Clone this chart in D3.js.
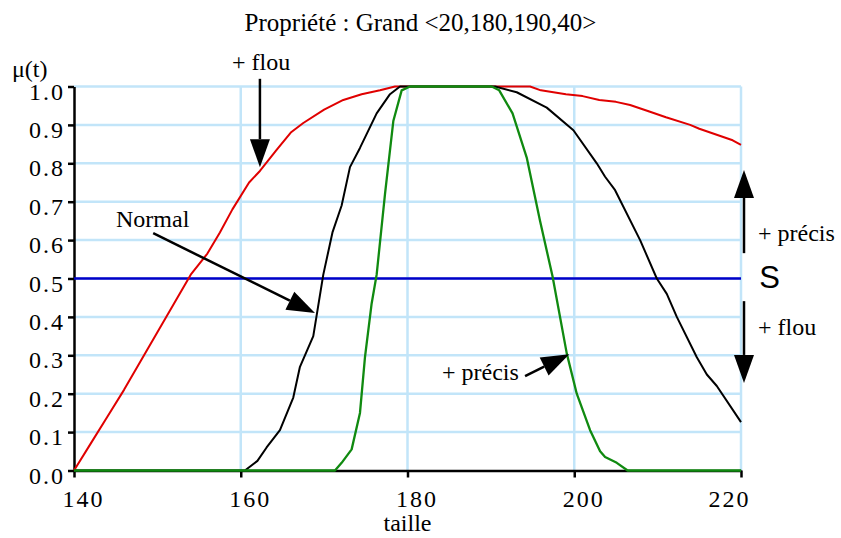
<!DOCTYPE html>
<html>
<head>
<meta charset="utf-8">
<script src="https://cdn.jsdelivr.net/npm/d3@7"></script>
<style>
  body { margin: 0; background: #fff; }
  svg { display: block; }
  text { font-family: "Liberation Serif", "Times New Roman", serif; fill: #000; }
</style>
</head>
<body>
<svg id="chart" width="841" height="538"></svg>
<script>
// ---------- data ----------
const title = "Propriété : Grand <20,180,190,40>";
const xTicks = [140, 160, 180, 200, 220];
const yTicks = [0, 0.1, 0.2, 0.3, 0.4, 0.5, 0.6, 0.7, 0.8, 0.9, 1.0];
const xLabel = "taille";
const yLabel = "μ(t)";

// "+ flou" (red)
const flouT = [140,142,144,146,148,150,152,154,156,157.5,159,161,162.3,164.3,166,167.5,170,172.3,174.5,176.7,178.5,180,190,194.7,196,199,201,203,205,206.7,209,211,213.9,215,217,219,220];
const flouV = [0,0.07,0.14,0.21,0.285,0.36,0.435,0.51,0.565,0.62,0.68,0.75,0.78,0.835,0.88,0.905,0.94,0.965,0.98,0.99,1,1,1,1,0.99,0.98,0.975,0.965,0.96,0.952,0.935,0.92,0.9,0.89,0.875,0.86,0.848];

// "Normal" (black)
const normalT = [140,160.5,162,163.1,164.7,166.3,167.1,168.7,169.9,171,172.1,173.1,174.3,176.3,177.9,179.1,190.5,193.1,196.7,199.9,202.7,203.7,204.9,207.9,209.9,211.1,212.3,214.7,215.9,217.1,220];
const normalV = [0,0,0.025,0.06,0.105,0.19,0.27,0.35,0.51,0.62,0.69,0.79,0.84,0.93,0.98,1,1,0.985,0.945,0.886,0.80,0.765,0.73,0.6,0.5,0.46,0.4,0.295,0.25,0.22,0.126];

// "+ précis" (green)
const precisT = [140,171.3,172.1,173.3,174.3,174.9,175.7,176.3,177.3,178.3,179.3,180.3,190.1,191,192.6,194.3,195.9,197.4,199.1,200.3,201.9,203.1,203.7,205.1,206.4,220];
const precisV = [0,0,0.02,0.055,0.15,0.295,0.435,0.51,0.72,0.91,0.99,1,1,0.99,0.93,0.815,0.65,0.505,0.305,0.2,0.105,0.05,0.035,0.02,0,0];

// threshold S (blue)
const seuilT = [140, 220];
const seuilV = [0.5, 0.5];

// annotation texts
const annoTexts = ["+ flou", "Normal", "+ précis", "+ précis", "S", "+ flou"];

// ---------- layout ----------
const svg = d3.select("#chart");
const x = d3.scaleLinear().domain([140, 220]).range([74, 741]);
const y = d3.scaleLinear().domain([0, 1]).range([470.5, 86.5]);

const gridColor = "#c2e5f9";

// title
svg.append("text").attr("x", 420.5).attr("y", 31)
  .attr("text-anchor", "middle").style("font-size", "25px")
  .text(title);

// grid
const grid = svg.append("g");
grid.selectAll("line.h").data(yTicks.filter(d => d > 0)).join("line")
  .attr("x1", x(140)).attr("x2", x(220))
  .attr("y1", d => y(d)).attr("y2", d => y(d))
  .attr("stroke", gridColor).attr("stroke-width", 2.5);
grid.selectAll("line.v").data(xTicks.filter(d => d > 140)).join("line")
  .attr("x1", d => x(d)).attr("x2", d => x(d))
  .attr("y1", y(0)).attr("y2", y(1))
  .attr("stroke", gridColor).attr("stroke-width", 2.5);

// axes
const yAxis = svg.append("g").attr("transform", `translate(${x(140)},0)`)
  .call(d3.axisLeft(y).tickValues(yTicks).tickSize(6).tickSizeOuter(0).tickFormat(d3.format(".1f")));
const xAxis = svg.append("g").attr("transform", `translate(0,${y(0)})`)
  .call(d3.axisBottom(x).tickValues(xTicks).tickSize(7).tickSizeOuter(0).tickFormat(d3.format("d")));

[yAxis, xAxis].forEach(g => {
  g.select(".domain").attr("stroke", "#000").attr("stroke-width", 2.5);
  g.selectAll(".tick line").attr("stroke", "#000").attr("stroke-width", 2.5);
  g.selectAll(".tick text").style("font-family", '"Liberation Serif", serif')
    .style("font-size", "24px").style("letter-spacing", "2px").attr("fill", "#000");
});
yAxis.selectAll(".tick text").attr("x", -9).attr("dy", 12.5);
xAxis.selectAll(".tick text").attr("y", 19)
  .attr("dx", d => d === 220 ? 0 : 9)
  .attr("text-anchor", d => d === 220 ? "end" : "middle")
  .attr("x", d => d === 220 ? 9 : 0);

// axis labels
svg.append("text").attr("x", (x(140) + x(220)) / 2).attr("y", 531)
  .attr("text-anchor", "middle").style("font-size", "24px").text(xLabel);
svg.append("text").attr("x", x(132.56)).attr("y", y(1.0247))
  .style("font-size", "24px").text(yLabel);

// curves
const line = d3.line().x(d => x(d[0])).y(d => y(d[1]));
const series = [
  { t: seuilT, v: seuilV, color: "#0000c8", w: 2.5 },
  { t: flouT, v: flouV, color: "#e00000", w: 2 },
  { t: normalT, v: normalV, color: "#000000", w: 2 },
  { t: precisT, v: precisV, color: "#108a10", w: 2.3 }
];
svg.append("g").selectAll("path").data(series).join("path")
  .attr("d", s => line(d3.zip(s.t, s.v)))
  .attr("fill", "none").attr("stroke", s => s.color).attr("stroke-width", s => s.w)
  .attr("stroke-linejoin", "round");

// arrows (data units)
const arrows = [
  { from: [162.3, 1.02], to: [162.3, 0.79] },
  { from: [149.5, 0.618], to: [168.9, 0.41] },
  { from: [194.1, 0.246], to: [199.4, 0.303] },
  { from: [220.36, 0.566], to: [220.36, 0.7825] },
  { from: [220.36, 0.441], to: [220.36, 0.228] }
];
const headLen = 28, headW = 20;
const ag = svg.append("g");
arrows.forEach(a => {
  const x1 = x(a.from[0]), y1 = y(a.from[1]), x2 = x(a.to[0]), y2 = y(a.to[1]);
  const dx = x2 - x1, dy = y2 - y1, L = Math.hypot(dx, dy);
  const ux = dx / L, uy = dy / L;
  const bx = x2 - ux * headLen, by = y2 - uy * headLen;
  ag.append("line").attr("x1", x1).attr("y1", y1).attr("x2", bx).attr("y2", by)
    .attr("stroke", "#000").attr("stroke-width", 2.5);
  ag.append("polygon")
    .attr("points", [[x2, y2], [bx - uy * headW / 2, by + ux * headW / 2], [bx + uy * headW / 2, by - ux * headW / 2]].map(p => p.join(",")).join(" "))
    .attr("fill", "#000");
});

// annotation texts (data units)
const annoPos = [
  { t: 158.95, v: 1.043, size: 24, sans: false },
  { t: 145.04, v: 0.635, size: 24, sans: false },
  { t: 184.14, v: 0.2357, size: 24, sans: false },
  { t: 222.04, v: 0.5977, size: 24, sans: false },
  { t: 222.2, v: 0.475, size: 31, sans: true },
  { t: 222.04, v: 0.353, size: 24, sans: false }
];
annoTexts.forEach((txt, i) => {
  const p = annoPos[i];
  svg.append("text").attr("x", x(p.t)).attr("y", y(p.v))
    .style("font-size", p.size + "px")
    .style("font-family", p.sans ? '"Liberation Sans", Arial, sans-serif' : '"Liberation Serif", serif')
    .text(txt);
});
</script>
</body>
</html>
